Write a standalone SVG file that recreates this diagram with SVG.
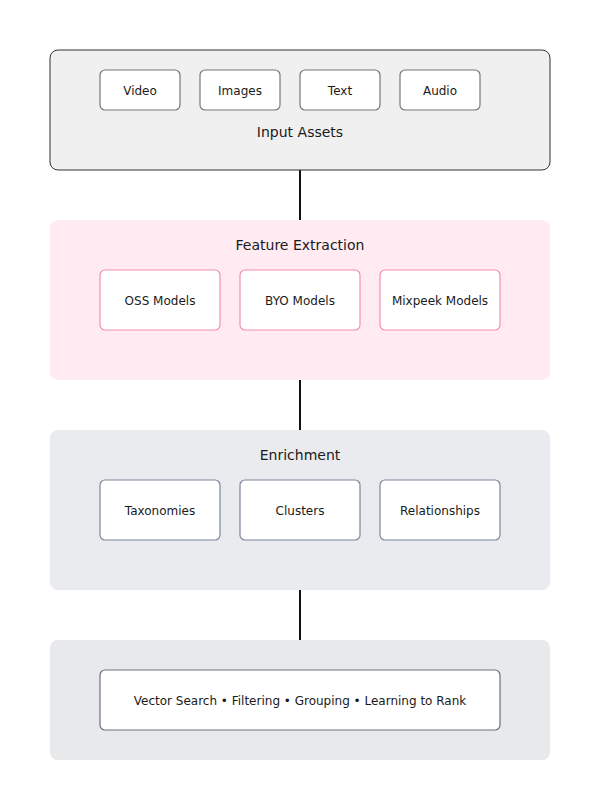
<svg xmlns="http://www.w3.org/2000/svg" width="600" height="800" viewBox="0 0 600 800">
<style>
text{font-family:"DejaVu Sans",sans-serif;fill:#1a1a1a;text-anchor:middle;dominant-baseline:central}
.t{font-size:14px}
.l{font-size:12px}
.box{fill:#fff;stroke-width:1.2}
.conn{stroke:#111;stroke-width:2}
</style>
<rect width="600" height="800" fill="#fff"/>
<g id="connectors">
<line class="conn" x1="300" y1="170" x2="300" y2="220"/>
<line class="conn" x1="300" y1="380" x2="300" y2="430"/>
<line class="conn" x1="300" y1="590" x2="300" y2="640"/>
</g>
<g id="input-assets">
<rect x="50" y="50" width="500" height="120" rx="8" fill="#f0f0f0" stroke="#333" stroke-width="1"/>
<text class="t" x="300" y="132">Input Assets</text>
</g>
<g id="video"><rect class="box" x="100" y="70" width="80" height="40" rx="5" stroke="#777"/><text class="l" x="140" y="91">Video</text></g>
<g id="images"><rect class="box" x="200" y="70" width="80" height="40" rx="5" stroke="#777"/><text class="l" x="240" y="91">Images</text></g>
<g id="text"><rect class="box" x="300" y="70" width="80" height="40" rx="5" stroke="#777"/><text class="l" x="340" y="91">Text</text></g>
<g id="audio"><rect class="box" x="400" y="70" width="80" height="40" rx="5" stroke="#777"/><text class="l" x="440" y="91">Audio</text></g>
<g id="feature-extraction">
<rect x="50" y="220" width="500" height="160" rx="8" fill="#ffebf1"/>
<text class="t" x="300" y="245">Feature Extraction</text>
</g>
<g id="oss"><rect class="box" x="100" y="270" width="120" height="60" rx="5" stroke="#f48fb1"/><text class="l" x="160" y="301">OSS Models</text></g>
<g id="byo"><rect class="box" x="240" y="270" width="120" height="60" rx="5" stroke="#f48fb1"/><text class="l" x="300" y="301">BYO Models</text></g>
<g id="mixpeek"><rect class="box" x="380" y="270" width="120" height="60" rx="5" stroke="#f48fb1"/><text class="l" x="440" y="301">Mixpeek Models</text></g>
<g id="enrichment">
<rect x="50" y="430" width="500" height="160" rx="8" fill="#eaebef"/>
<text class="t" x="300" y="455">Enrichment</text>
</g>
<g id="taxonomies"><rect class="box" x="100" y="480" width="120" height="60" rx="5" stroke="#7a8699"/><text class="l" x="160" y="511">Taxonomies</text></g>
<g id="clusters"><rect class="box" x="240" y="480" width="120" height="60" rx="5" stroke="#7a8699"/><text class="l" x="300" y="511">Clusters</text></g>
<g id="relationships"><rect class="box" x="380" y="480" width="120" height="60" rx="5" stroke="#7a8699"/><text class="l" x="440" y="511">Relationships</text></g>
<g id="retrieval">
<rect x="50" y="640" width="500" height="120" rx="8" fill="#e8e9eb"/>
</g>
<g id="search"><rect class="box" x="100" y="670" width="400" height="60" rx="5" stroke="#6b7280"/><text class="l" x="300" y="701">Vector Search • Filtering • Grouping • Learning to Rank</text></g>
</svg>
